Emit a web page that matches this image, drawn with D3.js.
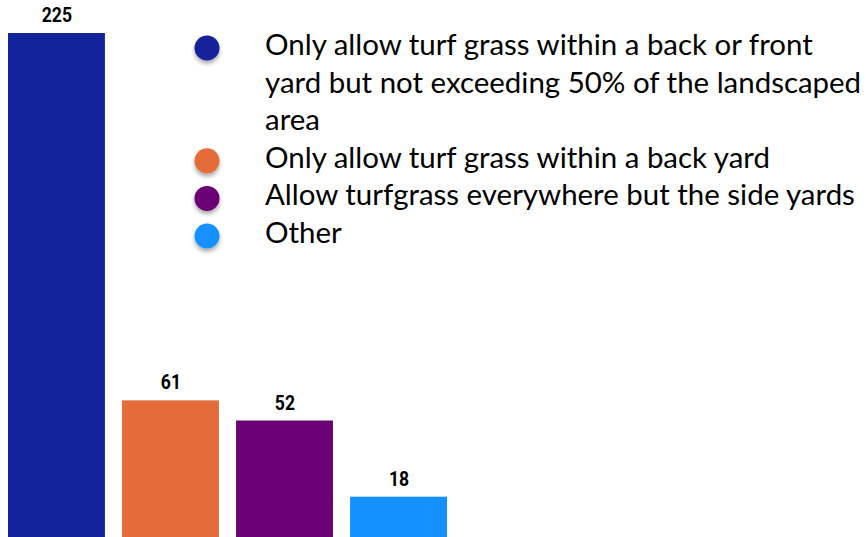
<!DOCTYPE html>
<html>
<head>
<meta charset="utf-8">
<script src="https://cdn.jsdelivr.net/npm/d3@7"></script>
<style>
  body { margin: 0; background: #fff; }
  svg { display: block; }
</style>
</head>
<body>
<svg id="chart" width="866" height="537"></svg>
<script>
// data
const categories = [
  "Only allow turf grass within a back or front yard but not exceeding 50% of the landscaped area",
  "Only allow turf grass within a back yard",
  "Allow turfgrass everywhere but the side yards",
  "Other"
];
const values = [225, 61, 52, 18];
const colors = ["#12239b", "#e46c38", "#6a0073", "#1590ff"];
// how the legend labels wrap in the reference
const legendLines = [
  ["Only allow turf grass within a back or front", "yard but not exceeding 50% of the landscaped", "area"],
  ["Only allow turf grass within a back yard"],
  ["Allow turfgrass everywhere but the side yards"],
  ["Other"]
];

const svg = d3.select("#chart");
const W = 866, H = 537;

const x = d3.scaleBand().domain(categories).range([8, 447]).paddingInner(0.15);
const y = d3.scaleLinear().domain([0, 225]).range([H, 33]);

// shadow for legend dots
const defs = svg.append("defs");
const f = defs.append("filter").attr("id", "dotShadow")
  .attr("x", "-50%").attr("y", "-50%").attr("width", "200%").attr("height", "200%");
f.append("feDropShadow").attr("dx", 0).attr("dy", 3).attr("stdDeviation", 2)
  .attr("flood-color", "#000").attr("flood-opacity", 0.35);

let bars = svg.append("g").attr("class", "bars");
bars.selectAll("rect")
  .data(values)
  .enter()
  .append("rect")
  .attr("x", (d, i) => x(categories[i]))
  .attr("y", d => y(d))
  .attr("width", x.bandwidth())
  .attr("height", d => H - y(d))
  .attr("fill", (d, i) => colors[i]);

bars.selectAll("text")
  .data(values)
  .enter()
  .append("text")
  .attr("x", (d, i) => x(categories[i]) + x.bandwidth() / 2 + 0.5)
  .attr("y", d => y(d) - 11)
  .attr("text-anchor", "middle")
  .attr("font-family", "Roboto, sans-serif")
  .attr("font-weight", "bold")
  .attr("font-size", 20)
  .attr("fill", "#000")
  .attr("transform-origin", (d, i) => (x(categories[i]) + x.bandwidth() / 2) + "px 0px")
  .style("transform", "scaleX(0.88)")
  .text(d => d);

// legend
let lineH = 37.6;  // line spacing
let y0 = 55;       // first baseline
let textX = 265, dotX = 207;
let legend = svg.append("g").attr("class", "legend");
let lineIdx = 0;
legendLines.forEach((lines, i) => {
  let base = y0 + lineIdx * lineH;
  legend.append("circle")
    .attr("cx", dotX)
    .attr("cy", base - 7)
    .attr("r", 12.5)
    .attr("fill", colors[i])
    .attr("filter", "url(#dotShadow)");
  let t = legend.append("text")
    .attr("class", "legText")
    .attr("font-family", "Lato, 'Open Sans', sans-serif")
    .attr("font-size", 28)
    .attr("fill", "#000");
  lines.forEach((ln, k) => {
    t.append("tspan").attr("x", textX).attr("y", base + k * lineH).text(ln);
  });
  lineIdx += lines.length;
});

// fit font size so the first line spans like the reference (~548px)
let first = legend.select("text.legText tspan").node();
let w = first.getComputedTextLength();
let fs = 28 * 548 / w;
legend.selectAll("text.legText").attr("font-size", fs);
</script>
</body>
</html>
